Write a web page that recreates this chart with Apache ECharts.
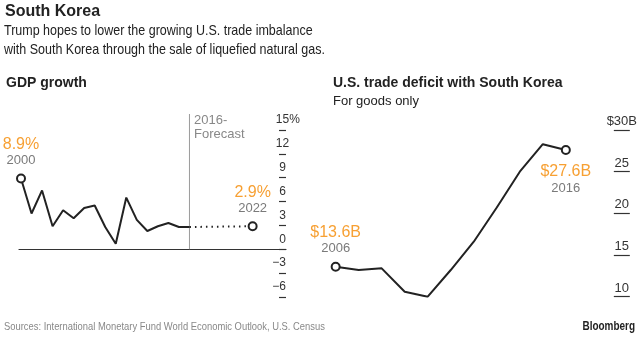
<!DOCTYPE html>
<html><head><meta charset="utf-8">
<script src="https://cdn.jsdelivr.net/npm/echarts@6/dist/echarts.min.js"></script>
<style>html,body{margin:0;padding:0;background:#fff}#c{width:640px;height:346px}</style>
</head><body><div id="c"></div>
<script>
// ---- data ----
const gdpYears = [2000,2001,2002,2003,2004,2005,2006,2007,2008,2009,2010,2011,2012,2013,2014,2015,2016];
const gdpValues = [8.9,4.5,7.4,2.9,4.9,3.9,5.2,5.5,2.8,0.7,6.5,3.7,2.3,2.9,3.3,2.8,2.8];
const forecastYears = [2016,2022];
const forecastValues = [2.8,2.9];
const forecastStart = 2016;
const gdpTicks = [-6,-3,0,3,6,9,12,15];
const tradeYears = [2006,2007,2008,2009,2010,2011,2012,2013,2014,2015,2016];
const tradeValues = [13.6,13.2,13.4,10.6,10.0,13.2,16.6,20.7,25.0,28.3,27.6];
const tradeTicks = [10,15,20,25,30];

const ORANGE = '#f7a033', GRAY = '#7a7a7a', INK = '#222';
const SANS = '"Liberation Sans",Arial,sans-serif';

function endLabel(v, y, pos, dist){
  return {show:true, position:pos, distance:dist, formatter:'{v|'+v+'}\n{y|'+y+'}',
    rich:{v:{color:ORANGE,fontSize:16,lineHeight:16,fontFamily:SANS,align:'center'},
          y:{color:GRAY,fontSize:13,lineHeight:16,fontFamily:SANS,align:'center'}}};
}
const mk = {symbol:'emptyCircle', symbolSize:8};

const gdpData = gdpYears.map((y,i)=>{
  const d = {value:[y,gdpValues[i]]};
  if(i===0){ Object.assign(d, mk, {label:endLabel(gdpValues[i].toFixed(1)+'%', y, 'top', 5)}); }
  return d;
});
const fcData = forecastYears.map((y,i)=>{
  const d = {value:[y,forecastValues[i]]};
  if(i===forecastYears.length-1){ Object.assign(d, mk, {label:endLabel(forecastValues[i].toFixed(1)+'%', y, 'top', 5)}); }
  return d;
});
const trData = tradeYears.map((y,i)=>{
  const d = {value:[y,tradeValues[i]]};
  if(i===0){ Object.assign(d, mk, {label:endLabel('$'+tradeValues[i].toFixed(1)+'B', y, 'top', 5)}); }
  if(i===tradeYears.length-1){ Object.assign(d, mk, {label:endLabel('$'+tradeValues[i].toFixed(1)+'B', y, 'bottom', 9)}); }
  return d;
});

function txt(x,y,text,font,color,align,sx){
  return {type:'text', x:x, y:y, scaleX:sx||1, silent:true,
    style:{text:text, font:font, fill:color, textAlign:align||'left', textVerticalAlign:'middle'}};
}

const hiddenX = {type:'value', axisLine:{show:false}, axisTick:{show:false}, axisLabel:{show:false}, splitLine:{show:false}};

const chart = echarts.init(document.getElementById('c'), null, {renderer:'canvas'});
chart.setOption({
  animation:false,
  backgroundColor:'#fff',
  grid:[
    {left:19, top:130, width:267, height:167},
    {left:320, top:130, width:310, height:166.7},
    {left:19, top:114, width:267, height:183}
  ],
  xAxis:[
    {gridIndex:0, type:'value', min:1999.81, max:2025.17,
     axisLine:{show:true, onZero:true, lineStyle:{color:'#333', width:1.2}},
     axisTick:{show:false}, axisLabel:{show:false}, splitLine:{show:false}},
    Object.assign({gridIndex:1, min:2005.32, max:2018.78}, hiddenX),
    Object.assign({gridIndex:2, min:1999.81, max:2025.17}, hiddenX)
  ],
  yAxis:[
    {gridIndex:0, type:'value', position:'right', min:gdpTicks[0], max:gdpTicks[gdpTicks.length-1], interval:3,
     axisLine:{show:false}, splitLine:{show:false},
     axisTick:{show:true, inside:true, length:7, lineStyle:{color:'#333', width:1.2}},
     axisLabel:{show:true, inside:false, margin:-3.5, align:'center', verticalAlign:'bottom', padding:[0,0,4,0],
       fontSize:12, color:'#333', fontFamily:SANS,
       formatter:function(v){
         if(v===15) return '{h|%}15%';
         if(v<0) return '\u2212'+Math.abs(v)+'{h|\u2212}';
         return String(v);
       },
       rich:{h:{color:'transparent', fontSize:12, fontFamily:SANS}}}},
    {gridIndex:1, type:'value', position:'right', min:tradeTicks[0], max:tradeTicks[tradeTicks.length-1], interval:5,
     axisLine:{show:false}, splitLine:{show:false},
     axisTick:{show:true, inside:true, length:16, lineStyle:{color:'#333', width:1.2}},
     axisLabel:{show:true, margin:-8, align:'center', verticalAlign:'bottom', padding:[0,0,2,0],
       fontSize:13, color:'#333', fontFamily:SANS,
       formatter:function(v){ return v===30 ? '$30B' : String(v); }}},
    Object.assign({gridIndex:2, min:-6, max:17}, hiddenX)
  ],
  series:[
    {type:'line', xAxisIndex:2, yAxisIndex:2, data:[[forecastStart,0],[forecastStart,17]], symbol:'none',
     lineStyle:{color:'#9a9a9a', width:1}, z:1, silent:true},
    {type:'line', xAxisIndex:0, yAxisIndex:0, data:gdpData, symbol:'none', showSymbol:true,
     lineStyle:{color:INK, width:2}, itemStyle:{color:INK, borderWidth:1.6}, z:3},
    {type:'line', xAxisIndex:0, yAxisIndex:0, data:fcData, symbol:'none', showSymbol:true,
     lineStyle:{color:INK, width:2, type:[1.5,4]}, itemStyle:{color:INK, borderWidth:1.6}, z:3},
    {type:'line', xAxisIndex:1, yAxisIndex:1, data:trData, symbol:'none', showSymbol:true,
     lineStyle:{color:INK, width:2}, itemStyle:{color:INK, borderWidth:1.6}, z:3}
  ],
  graphic:[
    txt(5,12,'South Korea','bold 16px '+SANS,INK),
    txt(4,31,'Trump hopes to lower the growing U.S. trade imbalance','15px '+SANS,INK,'left',0.833),
    txt(4,50,'with South Korea through the sale of liquefied natural gas.','15px '+SANS,INK,'left',0.833),
    txt(6,83.5,'GDP growth','bold 14px '+SANS,INK),
    txt(333,83.5,'U.S. trade deficit with South Korea','bold 14px '+SANS,INK),
    txt(333,101,'For goods only','13px '+SANS,INK),
    txt(194,120,'2016-','13px '+SANS,'#888'),
    txt(194,134,'Forecast','13px '+SANS,'#888'),
    txt(4,327,'Sources: International Monetary Fund World Economic Outlook, U.S. Census','11px '+SANS,'#888','left',0.854),
    txt(635,327,'Bloomberg','bold 12px '+SANS,INK,'right',0.83)
  ]
});
</script></body></html>
